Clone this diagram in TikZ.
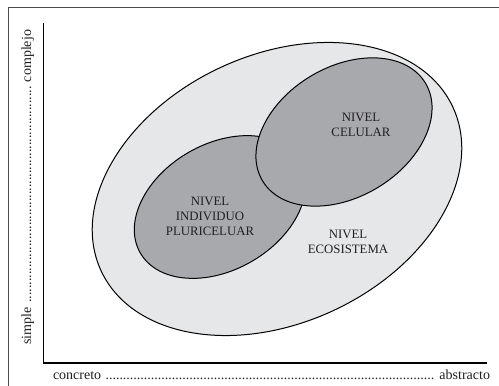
\documentclass[tikz,border=0pt]{standalone}
\usepackage{fontspec}
\setmainfont{Liberation Serif}
\usepackage{tikz}
\usetikzlibrary{positioning}
\definecolor{grisclaro}{HTML}{E6E7E8}
\definecolor{grisoscuro}{HTML}{A7A9AC}
\definecolor{tinta}{HTML}{231F20}
\newcommand{\puntos}{\leaders\hbox{.}\hfill}
\begin{document}
\begin{tikzpicture}[x=1pt, y=1pt,
		nivel/.style={draw=black, line width=1pt},
		rotulo/.style={align=center, text=tinta, font=\fontsize{12.8}{15}\selectfont},
		eje/.style={line width=1.3pt},
		marco/.style={draw=black!70, line width=0.8pt},
		extremos/.style={text=tinta, inner sep=0pt, font=\fontsize{14}{16}\selectfont}]
		\useasboundingbox (0,0) rectangle (499,386);
		% marco
		\draw[marco] (8,0) -- (8,379) -- (499,379);
		% ejes
		\coordinate (arriba) at (43.5,363);
		\coordinate (origen) at (43.5,23);
		\coordinate (derecha) at (487,23);
		\draw[eje] (arriba) -- (origen) -- (derecha);
		\node[extremos, anchor=base] (horizontal) at (271.5,6) {\makebox[437pt]{concreto \puntos{} abstracto}};
		\node[extremos, anchor=base, rotate=90] (vertical) at (31,198.5) {\makebox[315pt]{simple \puntos{} complejo}};
		% niveles
		\draw[nivel, fill=grisclaro, rotate around={25:(277,197)}] (277,197) ellipse [x radius=194, y radius=134];
		\draw[nivel, fill=grisoscuro, rotate around={30:(220,179)}] (220,179) ellipse [x radius=92, y radius=63];
		\draw[nivel, fill=grisoscuro, rotate around={31:(344,254)}] (344,254) ellipse [x radius=95, y radius=65];
		\node[rotulo] (celular) at (361,261) {NIVEL\\CELULAR};
		\node[rotulo] (individuo) at (210,170) {NIVEL\\INDIVIDUO\\PLURICELUAR};
		\node[rotulo] (ecosistema) at (348,144.5) {NIVEL\\ECOSISTEMA};
	\end{tikzpicture}
\end{document}
